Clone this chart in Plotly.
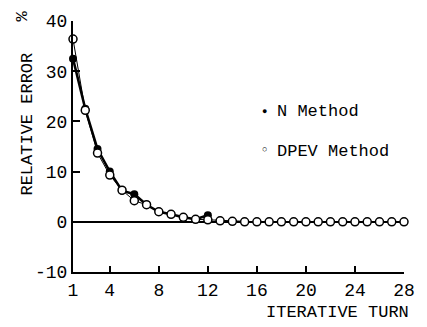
import plotly.graph_objects as go

turns = list(range(1, 29))
n_method = [32.5, 22.5, 14.5, 10.0, 6.2, 5.5, 3.4, 2.0, 1.5, 0.9, 0.5, 1.3,
            0.2, 0.1, 0.1, 0.0, 0.0, 0.0, 0.0, 0.0, 0.0, 0.0, 0.0, 0.0, 0.0, 0.0, 0.0, 0.0]
dpev_method = [36.4, 22.2, 13.7, 9.3, 6.3, 4.2, 3.4, 2.0, 1.5, 0.9, 0.5, 0.4,
               0.2, 0.1, 0.0, 0.0, 0.0, 0.0, 0.0, 0.0, 0.0, 0.0, 0.0, 0.0, 0.0, 0.0, 0.0, 0.0]
x_ticks = [1, 4, 8, 12, 16, 20, 24, 28]
y_ticks = [-10, 0, 10, 20, 30, 40]

FONT = "Liberation Mono"
L, R, T, B = 73, 414, 19, 272

fig = go.Figure()
fig.add_trace(go.Scatter(
    x=turns[:12], y=n_method[:12], mode="lines+markers",
    line=dict(color="black", width=2.5),
    marker=dict(symbol="circle", size=8, color="black"),
    cliponaxis=False, showlegend=False))
fig.add_trace(go.Scatter(
    x=turns, y=dpev_method, mode="lines+markers",
    line=dict(color="black", width=1),
    marker=dict(symbol="circle", size=8, color="white", line=dict(color="black", width=1.5)),
    cliponaxis=False, showlegend=False))

fig.update_layout(
    width=427, height=327,
    margin=dict(l=L, r=427 - R, t=T, b=327 - B),
    paper_bgcolor="white", plot_bgcolor="white",
    font=dict(family=FONT, size=18, color="black"),
    xaxis=dict(range=[1, 28], tickvals=x_ticks, ticktext=[str(v) for v in x_ticks],
               showgrid=False, zeroline=False, showline=True, linecolor="black", linewidth=2,
               ticks="inside", ticklen=6, tickwidth=1.5, tickcolor="black"),
    yaxis=dict(range=[-10, 40], tickvals=y_ticks, ticktext=["-10", "0", "10", "20", "30", "40"],
               showgrid=False, zeroline=True, zerolinecolor="black", zerolinewidth=1.5,
               showline=True, linecolor="black", linewidth=2,
               ticks="inside", ticklen=7, tickwidth=1.5, tickcolor="black"),
    showlegend=False,
)

annotations = [
    dict(text="RELATIVE ERROR", x=26, y=123, textangle=-90, font=dict(size=17)),
    dict(text="%", x=21, y=14, textangle=-90, font=dict(size=17)),
    dict(text="ITERATIVE TURN", x=345, y=313, font=dict(size=17)),
    dict(text="●", x=270, y=111, font=dict(size=9)),
    dict(text="N Method", x=281, y=110, font=dict(size=17), xanchor="left"),
    dict(text="○", x=270, y=149, font=dict(size=9)),
    dict(text="DPEV Method", x=281, y=151, font=dict(size=17), xanchor="left"),
]
for a in annotations:
    xa = a.pop("x"); ya = a.pop("y")
    a.setdefault("xanchor", "center")
    fig.add_annotation(x=(xa - L) / (R - L), y=(B - ya) / (B - T), xref="paper", yref="paper",
                       yanchor="middle", showarrow=False, **a)

fig.write_html("out.html")
